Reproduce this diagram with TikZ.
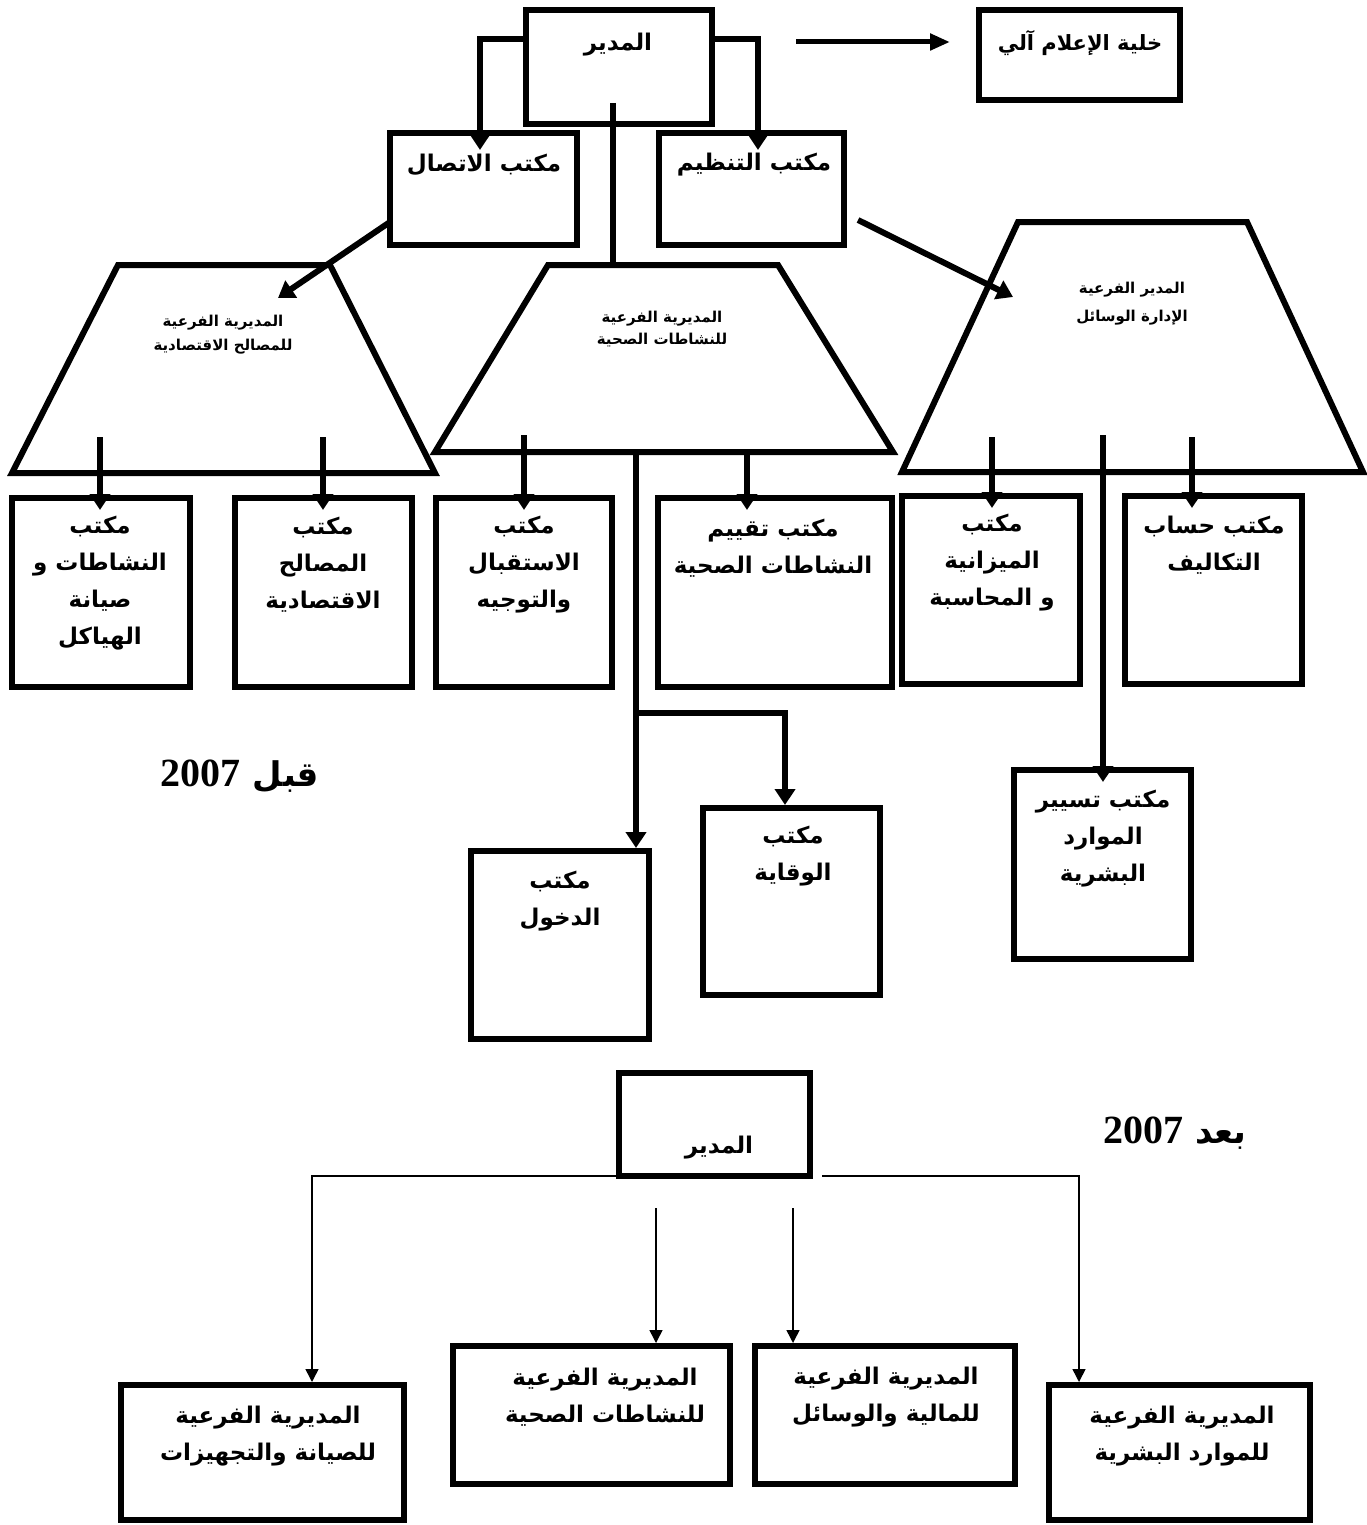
\documentclass[tikz,border=0pt]{standalone}
\usepackage{fontspec}
\usetikzlibrary{arrows.meta,calc}
\newfontfamily\arabicfont[Script=Arabic]{DejaVu Sans}
\newfontfamily\yearfont{Liberation Serif}
\TeXXeTstate=1
\newcommand{\AR}[1]{\beginR #1\endR}

\begin{document}
\begin{tikzpicture}[x=1pt,y=-1pt,
  box/.style={draw, line width=6pt, rectangle, inner sep=0pt, outer sep=0pt, line join=miter},
  trap/.style={draw, line width=6pt, line join=miter},
  conn/.style={line width=6pt},
  thickarrow/.style={line width=6pt, -{Triangle[width=20pt,length=16pt]}, shorten >=-12pt},
  edgearrow/.style={thickarrow, shorten >=3pt},
  infoarrow/.style={line width=5pt, -{Triangle[width=16pt,length=20pt]}},
  thinarrow/.style={line width=1.5pt, -{Triangle[width=13pt,length=13pt]}, shorten >=3pt},
  txt/.style={font=\arabicfont\bfseries\fontsize{23}{37}\selectfont, align=center, inner sep=0pt},
  traptxt/.style={font=\arabicfont\bfseries\fontsize{15}{24}\selectfont, align=center, inner sep=0pt},
  yeartxt/.style={font=\arabicfont\bfseries\fontsize{34}{40}\selectfont, inner sep=0pt}
]
\fill[white] (0,0) rectangle (1367,1525);
\useasboundingbox (0,0) rectangle (1367,1525);

% ---------- before 2007 : boxes ----------
\node[box, minimum width=186pt, minimum height=114pt] (dir)   at (619,67) {};
\node[box, minimum width=187pt, minimum height=112pt] (com)   at (483.5,189) {};
\node[box, minimum width=185pt, minimum height=112pt] (org)   at (751.5,189) {};
\node[box, minimum width=201pt, minimum height=90pt]  (info)  at (1079.5,55) {};
\node[box, minimum width=178pt, minimum height=189pt] (b1)    at (101,592.5) {};
\node[box, minimum width=177pt, minimum height=189pt] (b2)    at (323.5,592.5) {};
\node[box, minimum width=176pt, minimum height=189pt] (b3)    at (524,592.5) {};
\node[box, minimum width=234pt, minimum height=189pt] (b4)    at (775,592.5) {};
\node[box, minimum width=178pt, minimum height=188pt] (b5)    at (991,590) {};
\node[box, minimum width=177pt, minimum height=188pt] (b6)    at (1213.5,590) {};
\node[box, minimum width=178pt, minimum height=188pt] (entry) at (560,945) {};
\node[box, minimum width=177pt, minimum height=187pt] (prev)  at (791.5,901.5) {};
\node[box, minimum width=177pt, minimum height=189pt] (hr)    at (1102.5,864.5) {};

% ---------- before 2007 : sub-directorates ----------
\draw[trap] (118,265) coordinate (L-tl) -- (330,265) coordinate (L-tr)
  -- (435,473) coordinate (L-br) -- (12,473) coordinate (L-bl) -- cycle;
\draw[trap] (548,265) coordinate (M-tl) -- (778,265) coordinate (M-tr)
  -- (893,452) coordinate (M-br) -- (435,452) coordinate (M-bl) -- cycle;
\draw[trap] (1018,222) coordinate (R-tl) -- (1247,222) coordinate (R-tr)
  -- (1363,472) coordinate (R-br) -- (902,472) coordinate (R-bl) -- cycle;

% ---------- before 2007 : texts ----------
\node[txt] (tdir)  at (618,45)  {\AR{المدير}};
\node[txt] (tcom)  at (484,165) {\AR{مكتب الاتصال}};
\node[txt] (torg)  at (754,165) {\AR{مكتب التنظيم}};
\node[txt, font=\arabicfont\bfseries\fontsize{21}{30}\selectfont] (tinfo) at (1080,43) {\AR{خلية الإعلام آلي}};
\node[traptxt] (tL) at (223,335) {\AR{المديرية الفرعية}\\\AR{للمصالح الاقتصادية}};
\node[traptxt, font=\arabicfont\bfseries\fontsize{15}{22}\selectfont] (tM) at (662,329) {\AR{المديرية الفرعية}\\\AR{للنشاطات الصحية}};
\node[traptxt, font=\arabicfont\bfseries\fontsize{15}{28}\selectfont] (tR) at (1132,304) {\AR{المدير الفرعية}\\\AR{الإدارة الوسائل}};
\node[txt] (tb1) at (100,583) {\AR{مكتب}\\\AR{النشاطات و}\\\AR{صيانة}\\\AR{الهياكل}};
\node[txt] (tb2) at (323,565) {\AR{مكتب}\\\AR{المصالح}\\\AR{الاقتصادية}};
\node[txt] (tb3) at (524,565) {\AR{مكتب}\\\AR{الاستقبال}\\\AR{والتوجيه}};
\node[txt] (tb4) at (773,548) {\AR{مكتب تقييم}\\\AR{النشاطات الصحية}};
\node[txt] (tb5) at (992,563) {\AR{مكتب}\\\AR{الميزانية}\\\AR{و المحاسبة}};
\node[txt] (tb6) at (1214,545) {\AR{مكتب حساب}\\\AR{التكاليف}};
\node[txt] (tentry) at (560,901) {\AR{مكتب}\\\AR{الدخول}};
\node[txt] (tprev)  at (793,856) {\AR{مكتب}\\\AR{الوقاية}};
\node[txt] (thr)    at (1103,839) {\AR{مكتب تسيير}\\\AR{الموارد}\\\AR{البشرية}};
\node[yeartxt] (before) at (240,776) {\AR{قبل \beginL{\yearfont\fontsize{40}{40}\selectfont 2007}\endL}};

% ---------- before 2007 : connectors ----------
\draw[thickarrow, shorten >=-17pt] ([yshift=28pt]dir.west) -| ([xshift=-3.5pt]com.north);
\draw[thickarrow, shorten >=-17pt] ([yshift=28pt]dir.east) -| ([xshift=6.5pt]org.north);
\coordinate (infoA) at (796,42);
\coordinate (infoB) at ([xshift=-29pt,yshift=13pt]info.west);
\draw[infoarrow] (infoA) -- (infoB);
\coordinate (trunk) at (613,103);
\draw[conn] (trunk) -- (trunk |- M-tl);
\coordinate (Lin) at (278,298);
\coordinate (Rin) at (1013,297);
\draw[thickarrow, shorten >=0pt] ([yshift=-33pt]com.west) -- (Lin);
\draw[thickarrow, shorten >=0pt] ([xshift=14pt,yshift=-31pt]org.east) -- (Rin);
\coordinate (L1) at (100,437);
\coordinate (L2) at (323,437);
\draw[thickarrow] (L1) -- (L1 |- b1.north);
\draw[thickarrow] (L2) -- (L2 |- b2.north);
\coordinate (M1) at (524,435);
\coordinate (M2) at (747,452);
\coordinate (M3) at (636,452);
\coordinate (Mbr) at (636,713);
\draw[thickarrow] (M1) -- (M1 |- b3.north);
\draw[thickarrow] (M2) -- (M2 |- b4.north);
\draw[edgearrow] (M3) -- (M3 |- entry.north);
\draw[edgearrow] (Mbr) -| ([xshift=-6.5pt]prev.north);
\coordinate (R1) at (992,437);
\coordinate (R2) at (1192,437);
\coordinate (R3) at (1103,435);
\draw[thickarrow] (R1) -- (R1 |- b5.north);
\draw[thickarrow] (R2) -- (R2 |- b6.north);
\draw[thickarrow] (R3) -- (R3 |- hr.north);

% ---------- after 2007 ----------
\node[box, minimum width=191pt, minimum height=103pt] (dirB) at (714.5,1124.5) {};
\node[box, minimum width=283pt, minimum height=135pt] (bA) at (262.5,1452.5) {};
\node[box, minimum width=277pt, minimum height=138pt] (bB) at (591.5,1415) {};
\node[box, minimum width=260pt, minimum height=138pt] (bC) at (885,1415) {};
\node[box, minimum width=261pt, minimum height=135pt] (bD) at (1179.5,1452.5) {};

\node[txt] (tdirB) at (719,1148) {\AR{المدير}};
\node[txt] (tA) at (268,1436) {\AR{المديرية الفرعية}\\\AR{للصيانة والتجهيزات}};
\node[txt] (tB) at (605,1397) {\AR{المديرية الفرعية}\\\AR{للنشاطات الصحية}};
\node[txt] (tC) at (886,1397) {\AR{المديرية الفرعية}\\\AR{للمالية والوسائل}};
\node[txt] (tD) at (1182,1436) {\AR{المديرية الفرعية}\\\AR{للموارد البشرية}};
\node[yeartxt] (after) at (1175,1133) {\AR{بعد \beginL{\yearfont\fontsize{40}{40}\selectfont 2007}\endL}};

\draw[thinarrow] (dirB.south west) -| ([xshift=49.5pt]bA.north);
\coordinate (dirBr) at ([xshift=12pt]dirB.south east);
\draw[thinarrow] (dirBr) -| ([xshift=-100.5pt]bD.north);
\coordinate (B1) at (656,1208);
\coordinate (B2) at (793,1208);
\draw[thinarrow] (B1) -- (B1 |- bB.north);
\draw[thinarrow] (B2) -- (B2 |- bC.north);
\end{tikzpicture}
\end{document}
